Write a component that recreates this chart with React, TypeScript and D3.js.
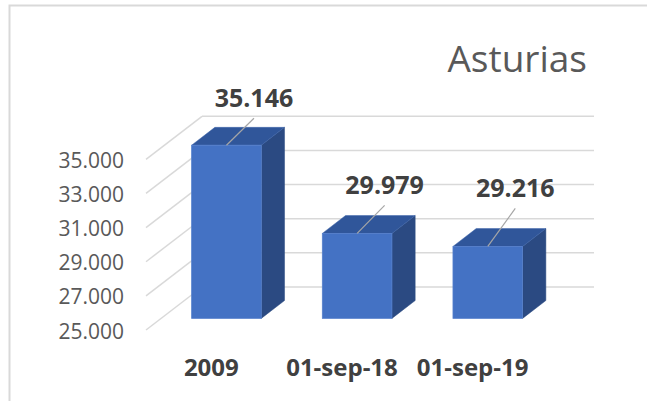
import React from "react";
import * as d3 from "d3";

// Asturias, 3D column chart
const categories = ["2009", "01-sep-18", "01-sep-19"];
const values = [35146, 29979, 29216];
const yTicks = [25000, 27000, 29000, 31000, 33000, 35000];
const title = "Asturias";

const es = d3.formatLocale({ decimal: ",", thousands: ".", grouping: [3], currency: ["", " €"] });
const fmt = es.format(",");

const W = 647;
const H = 401;

// front edge of the floor, and the depth vector of the walls
const floorLeft = 146;
const floorRight = 538;
const depth = { x: 56, y: -43 };
const barFront = 0.27; // where the bar front sits inside the depth
const barDepth = 0.415;
const labelLift = [27, 28, 38]; // label nudges as placed in the original

const grid = "#d9d9d9";
const textGray = "#595959";
const labelDark = "#404040";

export default function App() {
  const y = d3.scaleLinear().domain([25000, 35000]).range([330, 159.3]);
  const x = d3
    .scaleBand<string>()
    .domain(categories)
    .range([floorLeft, floorRight])
    .paddingInner(0.467)
    .paddingOuter(0.2335);
  const bw = x.bandwidth();
  const step = x.step();

  const sx = depth.x * barFront;
  const sy = depth.y * barFront;
  const dx = depth.x * barDepth;
  const dy = depth.y * barDepth;

  return (
    <svg
      width={W}
      height={H}
      style={{ position: "absolute", left: 0, top: 0, background: "#fff" }}
      fontFamily="'Open Sans', sans-serif"
    >
      {/* frame */}
      <path d={`M9.5,${H} V5.5 H${W}`} fill="none" stroke="#d9d9d9" strokeWidth={2} />

      <text x={587} y={72} textAnchor="end" fontSize={37} fill={textGray}>
        {title}
      </text>

      {/* back wall gridlines */}
      {yTicks.map((t) => (
        <line
          key={"b" + t}
          x1={floorLeft + depth.x}
          x2={floorRight + depth.x}
          y1={y(t) + depth.y}
          y2={y(t) + depth.y}
          stroke={grid}
          strokeWidth={1.5}
        />
      ))}
      {/* side wall gridlines */}
      {yTicks.map((t) => (
        <line
          key={"s" + t}
          x1={floorLeft}
          y1={y(t)}
          x2={floorLeft + depth.x}
          y2={y(t) + depth.y}
          stroke={grid}
          strokeWidth={1.5}
        />
      ))}

      {/* y tick labels */}
      {yTicks.map((t) => (
        <text key={"t" + t} x={124} y={y(t) + 8.5} textAnchor="end" fontSize={21} fill={textGray}>
          {fmt(t)}
        </text>
      ))}

      {/* bars */}
      {categories.map((c, i) => {
        const x0 = (x(c) as number) + sx;
        const x1 = x0 + bw;
        const yt = y(values[i]) + sy;
        const yb = y(25000) + sy;
        const topFace = [
          [x0, yt],
          [x1, yt],
          [x1 + dx, yt + dy],
          [x0 + dx, yt + dy],
        ];
        const sideFace = [
          [x1, yt],
          [x1 + dx, yt + dy],
          [x1 + dx, yb + dy],
          [x1, yb],
        ];
        const lx = x0 + bw / 2;
        const ex = lx + 27.5;
        const ey = yt - labelLift[i];
        return (
          <g key={c}>
            <polygon points={sideFace.join(" ")} fill="#2B4A82" stroke="#2B4A82" strokeWidth={0.5} />
            <polygon points={topFace.join(" ")} fill="#30569A" stroke="#3a62a8" strokeWidth={0.5} />
            <rect x={x0} y={yt} width={bw} height={yb - yt} fill="#4472C4" stroke="#5580cc" strokeWidth={0.75} />
            <line x1={lx} y1={yt} x2={ex} y2={ey} stroke="#a6a6a6" strokeWidth={1.2} />
            <text x={ex} y={ey - 11} textAnchor="middle" fontSize={25} fontWeight="bold" fill={labelDark}>
              {fmt(values[i])}
            </text>
          </g>
        );
      })}

      {/* category labels */}
      {categories.map((c) => (
        <text
          key={"c" + c}
          x={(x(c) as number) + bw / 2}
          y={376}
          textAnchor="middle"
          fontSize={24}
          fontWeight="bold"
          fill={labelDark}
        >
          {c}
        </text>
      ))}
    </svg>
  );
}
